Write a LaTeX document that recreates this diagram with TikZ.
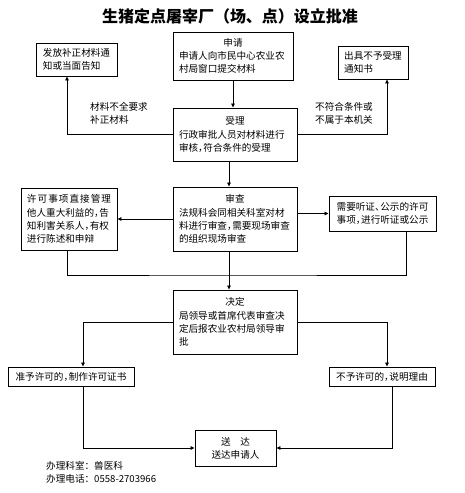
\documentclass[tikz,border=0pt]{standalone}
\usepackage{fontspec}
\newfontfamily\cjk{Noto Sans CJK SC}
\usetikzlibrary{arrows.meta,positioning}
\newcommand\hd[1]{\makebox[\hsize][c]{#1}}
\newcommand\ncm{\makebox[0.55em][l]{，}}
\begin{document}
\begin{tikzpicture}[x=1pt,y=-1pt,
  txt/.style={font=\cjk\fontsize{9.6}{13.2}\selectfont},
  box/.style={txt,draw,line width=0.9pt,inner sep=0pt,align=left},
  ln/.style={line width=0.8pt},
  arr/.style={ln,-{Triangle[length=4pt,width=3.6pt]}}]
\useasboundingbox (0,0) rectangle (465,493);
\node (title) at (230,16) {\cjk\bfseries\fontsize{16}{18}\selectfont 生猪定点屠宰厂（场、点）设立批准};

\node[box,minimum width=120pt,minimum height=48pt,text width=108pt] (shen) at (233,56)
  {\hd{申请}\\申请人向市民中心农业农\\村局窗口提交材料};
\node[box,minimum width=81pt,minimum height=33pt] (bz) at (76.5,59.5)
  {发放补正材料通\\知或当面告知};
\node[box,minimum width=70pt,minimum height=33pt] (bsl) at (373,62.5)
  {出具不予受理\\通知书};
\node[box,minimum width=124pt,minimum height=53pt,text width=112pt] (sl) at (235,134.5)
  {\hd{受理}\\行政审批人员对材料进行\\审核\ncm 符合条件的受理};
\node[txt,align=left,anchor=north west,inner sep=0pt] (lab1) at (90,102)
  {材料不全要求\\补正材料};
\node[txt,align=left,anchor=north west,inner sep=0pt] (lab2) at (315,102)
  {不符合条件或\\不属于本机关};

\node[box,minimum width=124pt,minimum height=64pt,text width=112pt] (sc) at (235,219)
  {\hd{审查}\\法规科会同相关科室对材\\料进行审查\ncm 需要现场审查\\的组织现场审查};
\node[box,minimum width=96pt,minimum height=62pt,text width=84pt] (lt) at (69,219)
  {\makebox[\hsize][s]{许\hfill 可\hfill 事\hfill 项\hfill 直\hfill 接\hfill 管\hfill 理}\\他人重大利益的\ncm 告\\知利害关系人\ncm 有权\\进行陈述和申辩};
\node[box,minimum width=107pt,minimum height=35pt] (rt) at (382.5,213.5)
  {需要听证\makebox[0.55em][l]{、}公示的许可\\事项\ncm 进行听证或公示};

\node[box,minimum width=124pt,minimum height=64pt,text width=112pt] (jd) at (235,322)
  {\hd{决定}\\局领导或首席代表审查决\\定后报农业农村局领导审\\批};
\node[box,minimum width=126pt,minimum height=19pt] (zy) at (71,376.5)
  {准予许可的\ncm 制作许可证书};
\node[box,minimum width=106pt,minimum height=19pt] (by) at (382,376.5)
  {不予许可的\ncm 说明理由};
\node[box,minimum width=81pt,minimum height=36pt,align=center] (sd) at (235.5,448)
  {送\quad 达\\送达申请人};
\node[txt,anchor=west,inner sep=0pt] (f1) at (46,466) {办理科室：兽医科};
\node[txt,anchor=west,inner sep=0pt] (f2) at (46,479) {办理电话：0558-2703966};

\draw[arr] (shen.south) -- (shen.south |- sl.north);
\draw[arr] (sl.west) -| ([xshift=-9.5pt]bz.south);
\draw[arr] (sl.east) -| ([xshift=14pt]bsl.south);
\draw[arr] ([xshift=-6pt]sl.south) -- ([xshift=-6pt]sl.south |- sc.north);
\draw[arr] (sc.west) -- (sc.west -| lt.east);
\draw[arr] (sc.east |- rt.west) -- (rt.west);
\coordinate (mrg) at (229,275);
\draw[ln] ([xshift=-2pt]lt.south) |- (mrg) -| ([xshift=23.5pt]rt.south);
\draw[arr] ([xshift=-6pt]sc.south) -- ([xshift=-6pt]sc.south |- jd.north);
\draw[arr] (jd.west) -| ([xshift=12pt]zy.north);
\draw[arr] (jd.east) -| ([xshift=5pt]by.north);
\draw[arr] ([xshift=12pt]zy.south) |- (sd.west);
\draw[arr] ([xshift=10pt]by.south) |- (sd.east);
\end{tikzpicture}
\end{document}
